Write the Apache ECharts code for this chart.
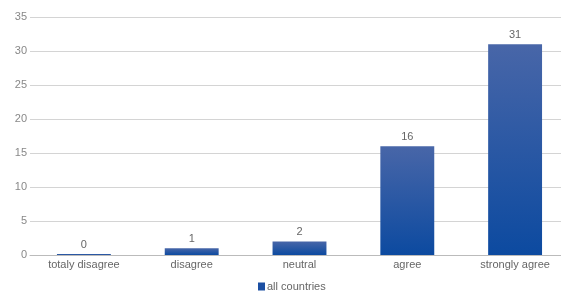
<!DOCTYPE html>
<html>
<head>
<meta charset="utf-8">
<script src="https://cdn.jsdelivr.net/npm/echarts@6/dist/echarts.min.js"></script>
<style>
html,body{margin:0;padding:0;background:#fff}
#chart{width:561px;height:293px}
</style>
</head>
<body>
<div id="chart"></div>
<script>
// answers per category
const categories = ['totaly disagree', 'disagree', 'neutral', 'agree', 'strongly agree'];
const values = [0, 1, 2, 16, 31];
const seriesName = 'all countries';

const chart = echarts.init(document.getElementById('chart'));

const option = {
    animation: false,
    grid: { left: 30, width: 539, top: 17, height: 238, outerBoundsMode: 'none', containLabel: false },
    legend: {
        top: 281,
        left: 258,
        itemWidth: 7,
        itemHeight: 8,
        itemGap: 2,
        padding: 0,
        icon: 'rect',
        textStyle: { color: '#666', fontSize: 11, fontFamily: 'Liberation Sans', padding: [0, 0, 0, -3] },
        data: [{ name: seriesName, itemStyle: { color: '#1b4fa3' } }]
    },
    xAxis: {
        type: 'category',
        data: categories,
        axisLine: { lineStyle: { color: '#bbb' } },
        axisTick: { show: false },
        axisLabel: { color: '#666', fontSize: 11, margin: 4, interval: 0, fontFamily: 'Liberation Sans' }
    },
    yAxis: {
        type: 'value',
        min: 0,
        max: 35,
        interval: 5,
        axisLine: { show: false },
        axisTick: { show: false },
        axisLabel: { color: '#888', fontSize: 11, margin: 3, fontFamily: 'Liberation Sans' },
        splitLine: { lineStyle: { color: '#d4d4d4' } }
    },
    series: [{
        name: seriesName,
        type: 'bar',
        data: values,
        barWidth: '50%',
        barMinHeight: 1,
        itemStyle: {
            color: new echarts.graphic.LinearGradient(0, 0, 0, 1, [
                { offset: 0, color: '#4866a8' },
                { offset: 1, color: '#0c4aa0' }
            ])
        },
        label: {
            show: true,
            position: 'top',
            distance: 4,
            color: '#666',
            fontSize: 11,
            fontFamily: 'Liberation Sans'
        }
    }]
};

chart.setOption(option);
</script>
</body>
</html>
